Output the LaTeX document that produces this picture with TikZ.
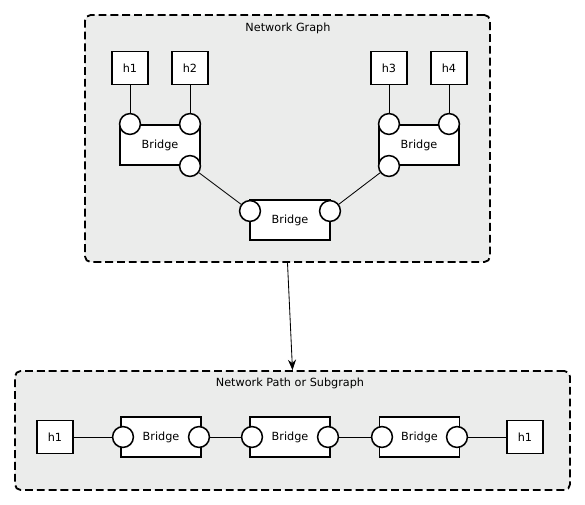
\documentclass[tikz,border=0pt]{standalone}
\usepackage{fontspec}
\setmainfont{DejaVu Sans}
\usepackage{xcolor}
\usepackage{tikz}
\usetikzlibrary{shapes.geometric, arrows.meta, positioning}

\definecolor{groupfill}{RGB}{235,236,235}

\begin{document}
\begin{tikzpicture}[
    font=\fontsize{8}{9.6}\selectfont,
    group/.style={rectangle, draw, dashed, dash pattern=on 5.6pt off 2.8pt,
                  line width=1.3pt, rounded corners=4pt, fill=groupfill},
    host/.style={rectangle, draw, line width=1.1pt, fill=white,
                 minimum width=0.9cm, minimum height=0.82cm, inner sep=0pt},
    bridge/.style={rectangle, draw, line width=1.1pt, fill=white,
                   minimum width=2cm, minimum height=1cm, inner sep=0pt},
    port/.style={circle, draw, line width=1.1pt, fill=white,
                 minimum size=0.52cm, inner sep=0pt},
    link/.style={line width=0.6pt},
    arrow/.style={-{Stealth[length=2.6mm, width=2mm]}, line width=0.6pt}
]
    \useasboundingbox (0,0) rectangle (14.625,-12.625);

    % Containers
    \node[group, minimum width=10.125cm, minimum height=6.175cm] (graph) at (7.1875,-3.4625) {};
    \node (graphlbl) at (7.2,-0.7) {Network Graph};
    \node[group, minimum width=13.875cm, minimum height=2.975cm] (subgraph) at (7.3125,-10.7625) {};
    \node (subgraphlbl) at (7.25,-9.575) {Network Path or Subgraph};

    % ── Network graph: hosts ──
    \node[host] (h1) at (3.25,  -1.7) {h1};
    \node[host] (h2) at (4.75,  -1.7) {h2};
    \node[host] (h3) at (9.725, -1.7) {h3};
    \node[host] (h4) at (11.225,-1.7) {h4};

    % ── Network graph: bridges and their ports ──
    \node[bridge] (brL) at (4.0,   -3.625) {Bridge};
    \node[bridge] (brR) at (10.475,-3.625) {Bridge};
    \node[bridge] (brM) at (7.25,  -5.5)   {Bridge};

    \node[port] (pL1) at (3.25,  -3.1)   {};
    \node[port] (pL2) at (4.75,  -3.1)   {};
    \node[port] (pL3) at (4.75,  -4.15)  {};
    \node[port] (pR1) at (9.725, -3.1)   {};
    \node[port] (pR2) at (11.225,-3.1)   {};
    \node[port] (pR3) at (9.725, -4.15)  {};
    \node[port] (pM1) at (6.25,  -5.275) {};
    \node[port] (pM2) at (8.25,  -5.275) {};

    \draw[link] (h1) -- (pL1);
    \draw[link] (h2) -- (pL2);
    \draw[link] (h3) -- (pR1);
    \draw[link] (h4) -- (pR2);
    \draw[link] (pL3) -- (pM1);
    \draw[link] (pR3) -- (pM2);

    % ── Graph down to path ──
    \draw[arrow] (graph.south) -- (subgraph.north);

    % ── Network path: single row ──
    \node[host]   (hA)  at (1.375, -10.925) {h1};
    \node[bridge] (br1) at (4.025, -10.925) {Bridge};
    \node[bridge] (br2) at (7.25,  -10.925) {Bridge};
    \node[bridge] (br3) at (10.4875,-10.925) {Bridge};
    \node[host]   (hB)  at (13.125,-10.925) {h1};

    \node[port] (p1a) at (3.075, -10.925) {};
    \node[port] (p1b) at (4.975, -10.925) {};
    \node[port] (p2a) at (6.3,   -10.925) {};
    \node[port] (p2b) at (8.2,   -10.925) {};
    \node[port] (p3a) at (9.55,  -10.925) {};
    \node[port] (p3b) at (11.425,-10.925) {};

    \draw[link] (hA)  -- (p1a);
    \draw[link] (p1b) -- (p2a);
    \draw[link] (p2b) -- (p3a);
    \draw[link] (p3b) -- (hB);
\end{tikzpicture}
\end{document}
